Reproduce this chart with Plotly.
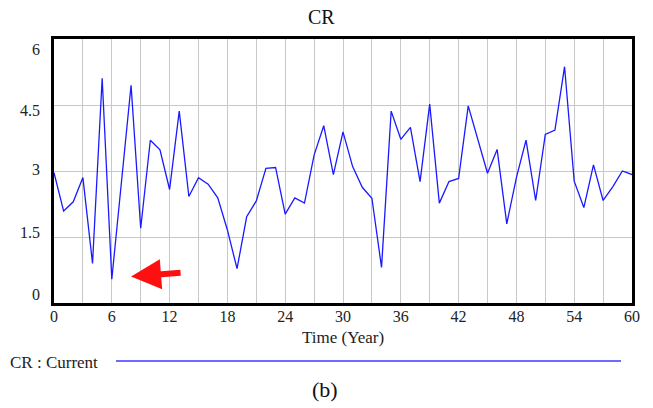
import plotly.graph_objects as go

years = list(range(0, 61))
cr_current = [2.96, 2.09, 2.30, 2.85, 0.90, 5.11, 0.54, 2.75, 4.95, 1.70,
              3.70, 3.48, 2.58, 4.36, 2.42, 2.85, 2.70, 2.39, 1.66, 0.78,
              1.96, 2.32, 3.06, 3.08, 2.02, 2.39, 2.27, 3.36, 4.03, 2.92,
              3.89, 3.10, 2.63, 2.38, 0.81, 4.36, 3.72, 3.99, 2.76, 4.52,
              2.27, 2.76, 2.83, 4.48, 3.70, 2.95, 3.49, 1.80, 2.85, 3.70,
              2.33, 3.83, 3.93, 5.37, 2.77, 2.17, 3.14, 2.33, 2.64, 3.00,
              2.92]
x_ticks = [0, 6, 12, 18, 24, 30, 36, 42, 48, 54, 60]
y_ticks = [0, 1.5, 3, 4.5, 6]
y_tick_labels = ["0", "1.5", "3", "4.5", "6"]
y_label_shift = [9, 5, 2, -5, -10]

SERIF = "Liberation Serif, Times New Roman, serif"
OFF = 8  # page body margin
W, H = 653 - OFF, 408 - OFF
L, T = 54 - OFF, 39 - OFF
PW, PH = 578, 264
R, B = W - L - PW, H - T - PH

def px(xp):  # page x -> paper x
    return (xp - OFF - L) / PW

def py(yp):  # page y -> paper y
    return 1 - (yp - OFF - T) / PH

fig = go.Figure()
fig.add_trace(go.Scatter(x=years, y=cr_current, mode="lines",
                         line=dict(color="#1a1aff", width=1.3),
                         showlegend=False, hoverinfo="skip"))

fig.update_layout(
    width=W, height=H,
    margin=dict(l=L, r=R, t=T, b=B, autoexpand=False),
    paper_bgcolor="white", plot_bgcolor="white",
    font=dict(family=SERIF, size=16, color="#222"),
    xaxis=dict(range=[0, 60], tickvals=x_ticks, showgrid=True,
               gridcolor="#c8c8c8", gridwidth=1.3,
               minor=dict(dtick=3, tick0=0, showgrid=True, gridcolor="#c8c8c8", gridwidth=1.3),
               showline=True, linecolor="black", linewidth=2.5, mirror=True,
               zeroline=False, ticks="", ticklabelstandoff=-3,
               tickfont=dict(family=SERIF, size=16, color="#222")),
    yaxis=dict(range=[0, 6], tickvals=y_ticks, showticklabels=False,
               showgrid=True, gridcolor="#c8c8c8", gridwidth=1.3,
               showline=True, linecolor="black", linewidth=2.5, mirror=True,
               zeroline=False, ticks=""),
)

# title
fig.add_annotation(x=px(321), xref="paper", y=py(17), yref="paper",
                   text="CR", showarrow=False, xanchor="center", yanchor="middle",
                   font=dict(family=SERIF, size=20, color="#111"))

for v, lab, s in zip(y_ticks, y_tick_labels, y_label_shift):
    fig.add_annotation(x=px(42), xref="paper", y=v, yref="y", text=lab,
                       showarrow=False, xanchor="right", yanchor="middle",
                       yshift=s, font=dict(family=SERIF, size=16, color="#222"))

# x axis title
fig.add_annotation(x=px(343), xref="paper", y=py(337), yref="paper",
                   text="Time (Year)", showarrow=False, xanchor="center", yanchor="middle",
                   font=dict(family=SERIF, size=17, color="#222"))

# legend
fig.add_annotation(x=px(8), xref="paper", y=py(362), yref="paper",
                   text="CR : Current", showarrow=False, xanchor="left", yanchor="middle",
                   font=dict(family=SERIF, size=17, color="#222"))
fig.add_shape(type="line", xref="paper", yref="paper",
              x0=px(116), x1=px(621), y0=py(361), y1=py(361),
              line=dict(color="#6b6bff", width=2))

# caption
fig.add_annotation(x=px(325), xref="paper", y=py(389), yref="paper",
                   text="(b)", showarrow=False, xanchor="center", yanchor="middle",
                   font=dict(family=SERIF, size=22, color="#111"))

# red arrow
fig.add_annotation(x=8.0, y=0.6, xref="x", yref="y", text="", showarrow=True,
                   ax=51, ay=-4, arrowhead=2, arrowsize=1.0, arrowwidth=6,
                   arrowcolor="#ff1010")

fig.write_html("out.html")
